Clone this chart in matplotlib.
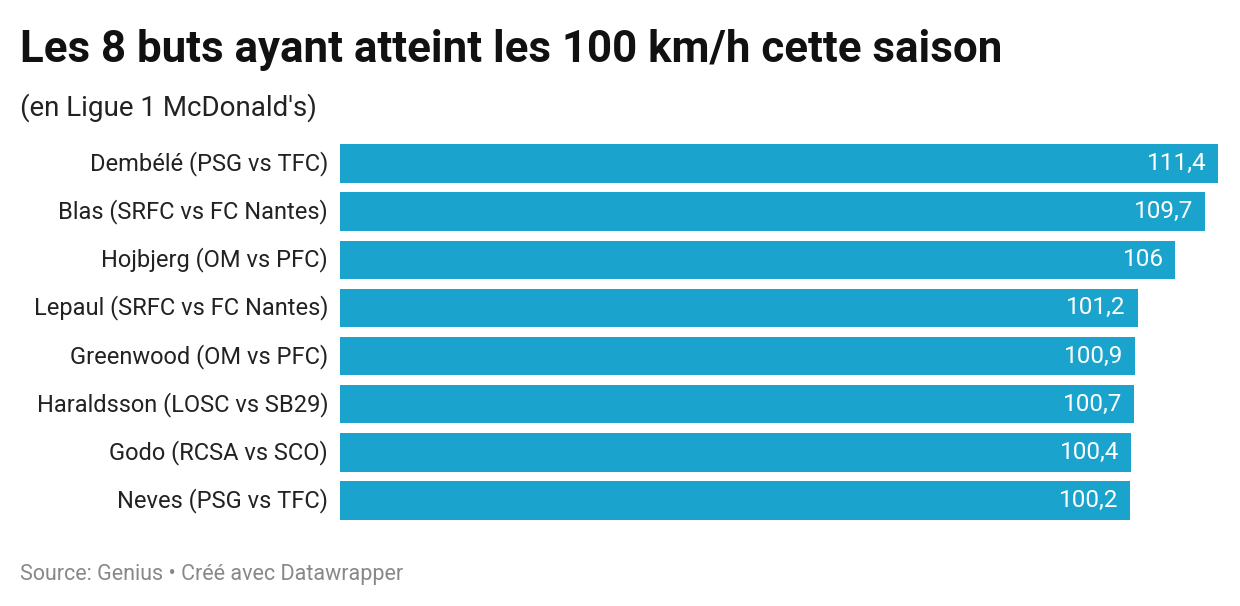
import matplotlib.pyplot as plt

plt.rcParams['font.family'] = ['Roboto', 'DejaVu Sans']

labels = ["Dembélé (PSG vs TFC)", "Blas (SRFC vs FC Nantes)", "Hojbjerg (OM vs PFC)",
          "Lepaul (SRFC vs FC Nantes)", "Greenwood (OM vs PFC)", "Haraldsson (LOSC vs SB29)",
          "Godo (RCSA vs SCO)", "Neves (PSG vs TFC)"]
speeds = [111.4, 109.7, 106, 101.2, 100.9, 100.7, 100.4, 100.2]
value_text = ["111,4", "109,7", "106", "101,2", "100,9", "100,7", "100,4", "100,2"]

W, H = 1240, 606
fig = plt.figure(figsize=(W / 100, H / 100), dpi=100)
ax = fig.add_axes([340 / W, 1 - 524.5 / H, (1218 - 340) / W, 385 / H])

ypos = list(range(len(labels)))
ax.barh(ypos, speeds, height=0.8, color='#1aa3cc')
ax.set_xlim(0, max(speeds))
ax.set_ylim(len(labels) - 0.5, -0.5)
ax.axis('off')

for y, v, t, lab in zip(ypos, speeds, value_text, labels):
    ax.annotate(t, (v, y), xytext=(-8.5, 0), textcoords='offset points', ha='right', va='center',
                color='white', fontsize=17.5)
    ax.annotate(lab, (0, y), xytext=(-8.5, 0), textcoords='offset points', ha='right', va='center',
                color='#222222', fontsize=17)

fig.text(20 / W, 1 - 62 / H, "Les 8 buts ayant atteint les 100 km/h cette saison",
         fontsize=31.6, fontweight='bold', color='#111111', ha='left', va='baseline')
fig.text(20 / W, 1 - 116 / H, "(en Ligue 1 McDonald's)",
         fontsize=20, color='#222222', ha='left', va='baseline')
fig.text(20 / W, 1 - 580 / H, "Source: Genius • Créé avec Datawrapper",
         fontsize=15.5, color='#888888', ha='left', va='baseline')

fig.savefig('out.png', dpi=100)
